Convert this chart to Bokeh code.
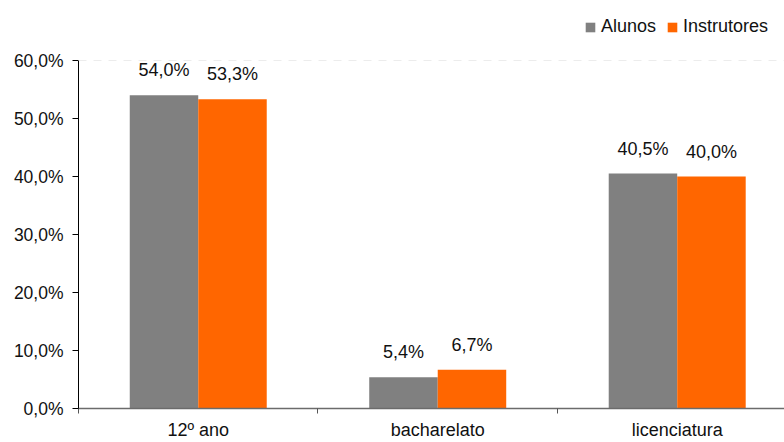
from bokeh.plotting import figure
from bokeh.models import (ColumnDataSource, Range1d, FixedTicker, Legend,
                          LegendItem, Span, LinearAxis)
from bokeh.core.properties import value
from bokeh.embed import file_html
from bokeh.resources import INLINE

# Education level of students and instructors (percent)
categories = ["12º ano", "bacharelato", "licenciatura"]
alunos = [54.0, 5.4, 40.5]
instrutores = [53.3, 6.7, 40.0]
y_ticks = [0, 10, 20, 30, 40, 50, 60]

GRAY = "#808080"
ORANGE = "#FF6600"
FONT = "Liberation Sans"
BAR_W = 0.286

# frame spans the full height above the x axis; the value axis itself
# covers 0..60 over the lower 348 px, leaving room for the legend on top
FRAME_H = 408
AXIS_H = 348
Y_MAX = y_ticks[-1]
Y_END = Y_MAX * FRAME_H / AXIS_H


def pct_label(v):
    return f"{v:.1f}%".replace(".", ",")


centers = [i + 0.5 for i in range(len(categories))]
src_a = ColumnDataSource(dict(
    x=[c - BAR_W / 2 for c in centers], top=alunos,
    label=[pct_label(v) for v in alunos]))
src_i = ColumnDataSource(dict(
    x=[c + BAR_W / 2 for c in centers], top=instrutores,
    label=[pct_label(v) for v in instrutores]))

p = figure(width=784, height=442, output_backend="svg", toolbar_location=None,
           x_range=Range1d(0, 2.948), y_range=Range1d(0, Y_END),
           min_border_left=78, min_border_right=0, min_border_top=0,
           min_border_bottom=442 - FRAME_H, x_axis_type=None, y_axis_type=None)
p.outline_line_color = None
p.background_fill_color = "white"
p.border_fill_color = "white"

# y axis with percent labels
yaxis = LinearAxis(ticker=FixedTicker(ticks=y_ticks, minor_ticks=[]),
                   bounds=(0, Y_MAX))
yaxis.major_label_overrides = {t: pct_label(t) for t in y_ticks}
yaxis.axis_line_color = "black"
yaxis.major_tick_line_color = "black"
yaxis.major_tick_in = 0
yaxis.major_tick_out = 6
yaxis.minor_tick_line_color = None
yaxis.major_label_standoff = 9
yaxis.major_label_text_font = FONT
yaxis.major_label_text_font_size = "17.5px"
yaxis.major_label_text_color = "#111111"
p.add_layout(yaxis, "left")

# x axis: labels at group centres, small ticks at group boundaries
xaxis = LinearAxis(ticker=FixedTicker(ticks=centers,
                                      minor_ticks=list(range(len(categories)))))
xaxis.major_label_overrides = {c: cat for c, cat in zip(centers, categories)}
xaxis.axis_line_color = "#6b6b6b"
xaxis.axis_line_width = 1.5
xaxis.major_tick_line_color = None
xaxis.major_tick_in = 0
xaxis.major_tick_out = 0
xaxis.minor_tick_line_color = "#555555"
xaxis.minor_tick_in = 0
xaxis.minor_tick_out = 5
xaxis.major_label_standoff = 6
xaxis.major_label_text_font = FONT
xaxis.major_label_text_font_size = "18px"
xaxis.major_label_text_color = "#111111"
p.add_layout(xaxis, "below")

# dashed horizontal grid
p.ygrid.ticker = FixedTicker(ticks=y_ticks[1:-1])
p.ygrid.grid_line_color = "#c4c4c4"
p.ygrid.grid_line_dash = "8 7"
p.ygrid.grid_line_width = 1
p.xgrid.visible = False
p.add_layout(Span(location=Y_MAX, dimension="width", line_color="#ececec",
                  line_dash="8 7", line_width=1))

r_a = p.vbar(x="x", top="top", width=BAR_W, bottom=0, source=src_a,
             fill_color=GRAY, line_color=None)
r_i = p.vbar(x="x", top="top", width=BAR_W, bottom=0, source=src_i,
             fill_color=ORANGE, line_color=None)

for src in (src_a, src_i):
    p.text(x="x", y="top", text="label", source=src, text_align="center",
           text_baseline="bottom", y_offset=-15, text_font=value(FONT),
           text_font_size="18px", text_color="#111111")

legend = Legend(items=[LegendItem(label="Alunos", renderers=[r_a]),
                       LegendItem(label="Instrutores", renderers=[r_i])],
                orientation="horizontal", location=(506, 371),
                glyph_width=12, glyph_height=12, label_standoff=5,
                spacing=10, padding=0, margin=0, label_height=20,
                label_text_font=FONT, label_text_font_size="18px",
                label_text_color="#111111", border_line_color=None,
                background_fill_alpha=0)
p.add_layout(legend, "center")

open("out.html", "w").write(file_html(p, INLINE))
